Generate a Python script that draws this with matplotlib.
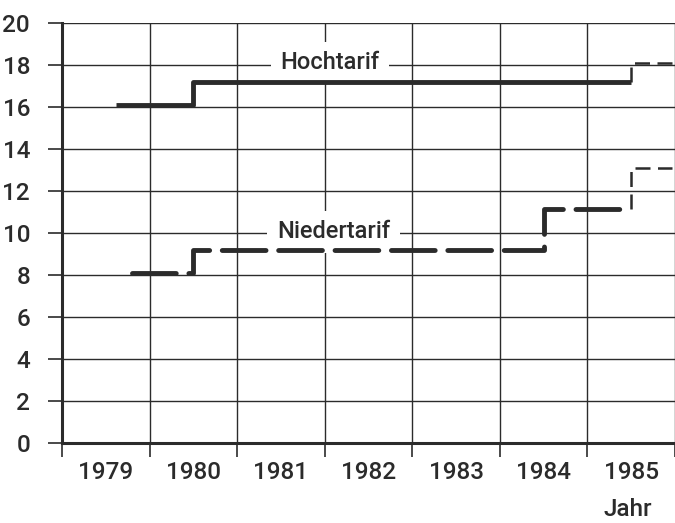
import numpy as np
import matplotlib
matplotlib.use("Agg")
import matplotlib.pyplot as plt

plt.rcParams['font.family'] = ['Roboto', 'DejaVu Sans']
plt.rcParams['font.weight'] = 'medium'

# Jahre (Intervalle) und Tarifdaten in Rp./kWh
jahre = [1979, 1980, 1981, 1982, 1983, 1984, 1985]

# Hochtarif: Datum der Tarifänderung und Wert
hoch_datum = [1979.62, 1980.5, 1985.5]
hoch_wert = [16.1, 17.2, 17.2]
hoch_prognose = 18.1

# Niedertarif
nieder_datum = [1979.8, 1980.5, 1984.5, 1985.5]
nieder_wert = [8.1, 9.2, 11.15, 11.15]
nieder_prognose = 13.1

x_ende = 1979 + 613 / 88
farbe = '#2b2b2b'

fig = plt.figure(figsize=(6.75, 5.23), dpi=100)
ax = fig.add_axes([62 / 675, 80 / 523, 613 / 675, 420 / 523])

# Linien
ax.step(hoch_datum, hoch_wert, where='post', color=farbe, lw=3.5,
        solid_capstyle='butt', zorder=3)
ax.plot([hoch_datum[-1], hoch_datum[-1], x_ende],
        [hoch_wert[-1], hoch_prognose, hoch_prognose],
        color=farbe, lw=1.8, dashes=(6, 3), zorder=3)

ln, = ax.step(nieder_datum, nieder_wert, where='post', color=farbe, lw=3.5,
              zorder=3)
ln.set_dashes((9, 2.6))
ln.set_dash_capstyle('round')
ax.plot([nieder_datum[-1], nieder_datum[-1], x_ende],
        [nieder_wert[-1], nieder_prognose, nieder_prognose],
        color=farbe, lw=1.8, dashes=(6, 3), zorder=3)

# Beschriftungen (weisser Hintergrund unterbricht nur das Gitter)
box = dict(facecolor='white', edgecolor='none', pad=7)
ax.text(1982.06, 18.1, 'Hochtarif', ha='center', va='center',
        fontsize=17, color=farbe, bbox=box, zorder=2)
ax.text(1982.1, 10.05, 'Niedertarif', ha='center', va='center',
        fontsize=17, color=farbe, bbox=box, zorder=2)

# Achsen
ax.set_xlim(1979, x_ende)
ax.set_ylim(0, 20)
ax.set_yticks(np.arange(0, 21, 2))
ax.set_xticks(jahre + [1986])
ax.set_xticks([j + 0.5 for j in jahre], minor=True)
ax.set_xticklabels([])
ax.set_xticklabels([str(j) for j in jahre], minor=True)
ax.tick_params(axis='x', which='major', length=10, width=1.2, color=farbe,
               direction='out')
ax.tick_params(axis='x', which='minor', length=0, pad=13, labelsize=17.5,
               labelcolor=farbe)
ax.tick_params(axis='y', length=10, width=1.2, color=farbe, pad=13,
               labelsize=17.5, labelcolor=farbe)

ax.grid(True, which='major', color=farbe, lw=1.0)
for s in ['top', 'right']:
    ax.spines[s].set_visible(False)
for s in ['left', 'bottom']:
    ax.spines[s].set_linewidth(2.2)
    ax.spines[s].set_color(farbe)
ax.set_axisbelow(True)

fig.text(628 / 675, 1 - 510 / 523, 'Jahr', ha='center', va='center',
         fontsize=17.5, color=farbe)

fig.savefig('out.png', dpi=100)
